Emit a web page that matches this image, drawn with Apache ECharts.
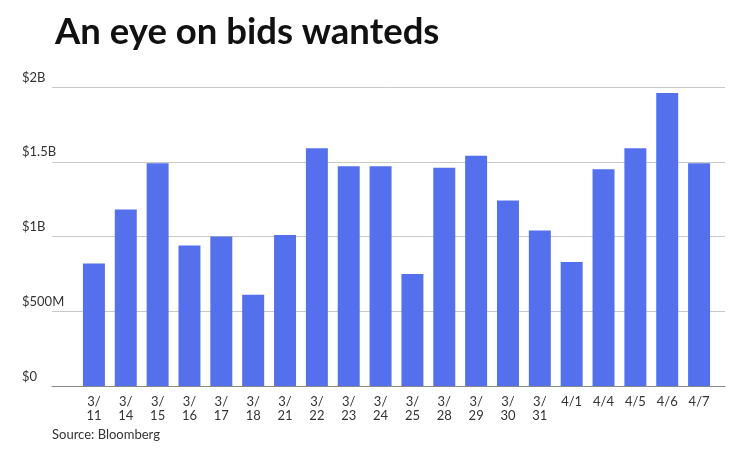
<!DOCTYPE html>
<html>
<head>
<meta charset="utf-8">
<script src="https://cdn.jsdelivr.net/npm/echarts@6/dist/echarts.min.js"></script>
<style>
html,body{margin:0;padding:0;background:#fff;}
#chart{width:740px;height:452px;}
</style>
</head>
<body>
<div id="chart"></div>
<script>
const categories = ["3/11","3/14","3/15","3/16","3/17","3/18","3/21","3/22","3/23","3/24","3/25","3/28","3/29","3/30","3/31","4/1","4/4","4/5","4/6","4/7"];
const valuesB = [0.82,1.18,1.49,0.94,1.00,0.61,1.01,1.59,1.47,1.47,0.75,1.46,1.54,1.24,1.04,0.83,1.45,1.59,1.96,1.49];
const yTickLabels = {0:"$0",0.5:"$500M",1:"$1B",1.5:"$1.5B",2:"$2B"};

const chart = echarts.init(document.getElementById('chart'), null, {renderer:'canvas'});
const font = 'Lato, "Noto Sans", sans-serif';
const yCommon = {type:'value', min:0, max:2, interval:0.5, axisLine:{show:false}, axisTick:{show:false}};
chart.setOption({
  animation:false,
  title:{
    text:"An eye on bids wanteds",
    left:50, top:9,
    textStyle:{fontFamily:font, fontWeight:'bold', fontSize:36.5, color:'#111'}
  },
  graphic:[{
    type:'text', left:52, top:428,
    style:{text:'Source: Bloomberg', font:'13px '+font, fill:'#333'}
  }],
  grid:[
    {left:52, right:15, top:87, bottom:66},
    {left:78, right:25, top:87, bottom:66}
  ],
  xAxis:[
    {gridIndex:0, type:'value', min:0, max:1,
     axisLine:{show:true, lineStyle:{color:'#888', width:1}},
     axisTick:{show:false}, axisLabel:{show:false}, splitLine:{show:false}},
    {gridIndex:1, type:'category', data:categories,
     axisLine:{show:false}, axisTick:{show:false},
     axisLabel:{
       interval:0, margin:9, fontFamily:font, fontSize:13, color:'#333', lineHeight:14,
       formatter:function(v){ return v.startsWith('3/') ? v.replace('3/','3/\n') : v; }
     }}
  ],
  yAxis:[
    Object.assign({gridIndex:0,
      splitLine:{lineStyle:{color:'#c8c8c8', width:1}},
      axisLabel:{
        align:'left', margin:30, verticalAlign:'bottom', padding:[0,0,3,0],
        fontFamily:font, fontSize:13, color:'#333',
        formatter:function(v){ return yTickLabels[v] !== undefined ? yTickLabels[v] : ''; }
      }}, yCommon),
    Object.assign({gridIndex:1, splitLine:{show:false}, axisLabel:{show:false}}, yCommon)
  ],
  series:[{
    type:'bar', xAxisIndex:1, yAxisIndex:1, data:valuesB, barCategoryGap:'31%',
    itemStyle:{color:'#5470EC'}
  }]
});
</script>
</body>
</html>
